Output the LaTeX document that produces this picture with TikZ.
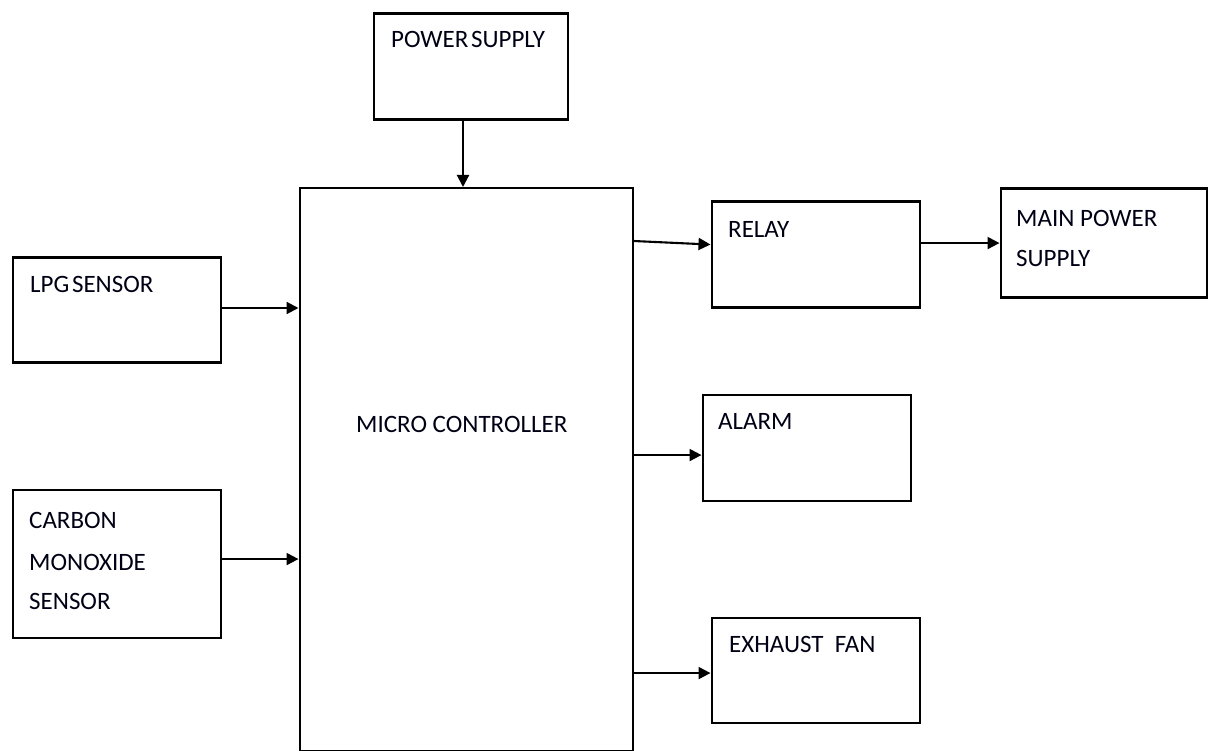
\documentclass[tikz,border=0pt]{standalone}
\usepackage{fontspec}
\setmainfont{Carlito}
\usetikzlibrary{arrows.meta}
\begin{document}
\begin{tikzpicture}[x=1pt,y=-1pt,
  box/.style={draw=black, line width=2.1pt, rectangle, inner sep=0pt, anchor=north west},
  txt/.style={anchor=base west, inner sep=0pt, font=\fontsize{25}{30}\selectfont, text=black!92!blue},
  arr/.style={line width=2.1pt, -{Triangle[length=12pt,width=12pt]}}]
\useasboundingbox (0,0) rectangle (1211,751);
% boxes
\node[box, minimum width=194pt, minimum height=106pt] (ps) at (372.5,12.5) {};
\node[box, minimum width=333pt, minimum height=563pt] (mc) at (298.5,187) {};
\node[box, minimum width=208pt, minimum height=105pt] (lpg) at (11.5,256.5) {};
\node[box, minimum width=208pt, minimum height=148pt] (co) at (11.5,489) {};
\node[box, minimum width=208pt, minimum height=106pt] (relay) at (710.5,200.5) {};
\node[box, minimum width=206pt, minimum height=109pt] (main) at (999.5,187.5) {};
\node[box, minimum width=208pt, minimum height=106pt] (alarm) at (701.5,394) {};
\node[box, minimum width=208pt, minimum height=105pt] (fan) at (710.5,616.5) {};
% texts
\node[txt] (pst) at (391,48) {POWER\hspace{-3pt} SUPPLY};
\node[txt] (mct) at (356,432) {MICRO CONTROLLER};
\node[txt] (lpgt) at (30,293) {LPG\hspace{-3pt} SENSOR};
\node[txt] (cot1) at (29,528) {CARBON};
\node[txt] (cot2) at (29,570) {MONOXIDE};
\node[txt] (cot3) at (29,609) {SENSOR};
\node[txt] (relayt) at (728,238) {RELAY};
\node[txt] (maint1) at (1016,227) {MAIN POWER};
\node[txt] (maint2) at (1016,267) {SUPPLY};
\node[txt] (alarmt) at (718,430) {ALARM};
\node[txt] (fant) at (729,652) {EXHAUST\ \ FAN};
% connectors
\draw[arr] ([xshift=90.5pt]ps.south west) -- ([xshift=90.5pt]ps.south west |- mc.north);
\draw[arr] (lpg.east |- 0,308) -- (mc.west |- 0,308);
\draw[arr] ([yshift=5pt]co.east) -- ([yshift=5pt]co.east -| mc.west);
\draw[arr] ([yshift=-54pt]mc.north east) -- ([yshift=10pt]relay.west);
\draw[arr] (relay.east |- main.west) -- (main.west);
\draw[arr] ([yshift=-7pt]alarm.west -| mc.east) -- ([yshift=-7pt]alarm.west);
\draw[arr] ([yshift=-3pt]fan.west -| mc.east) -- ([yshift=-3pt]fan.west);
\end{tikzpicture}
\end{document}
